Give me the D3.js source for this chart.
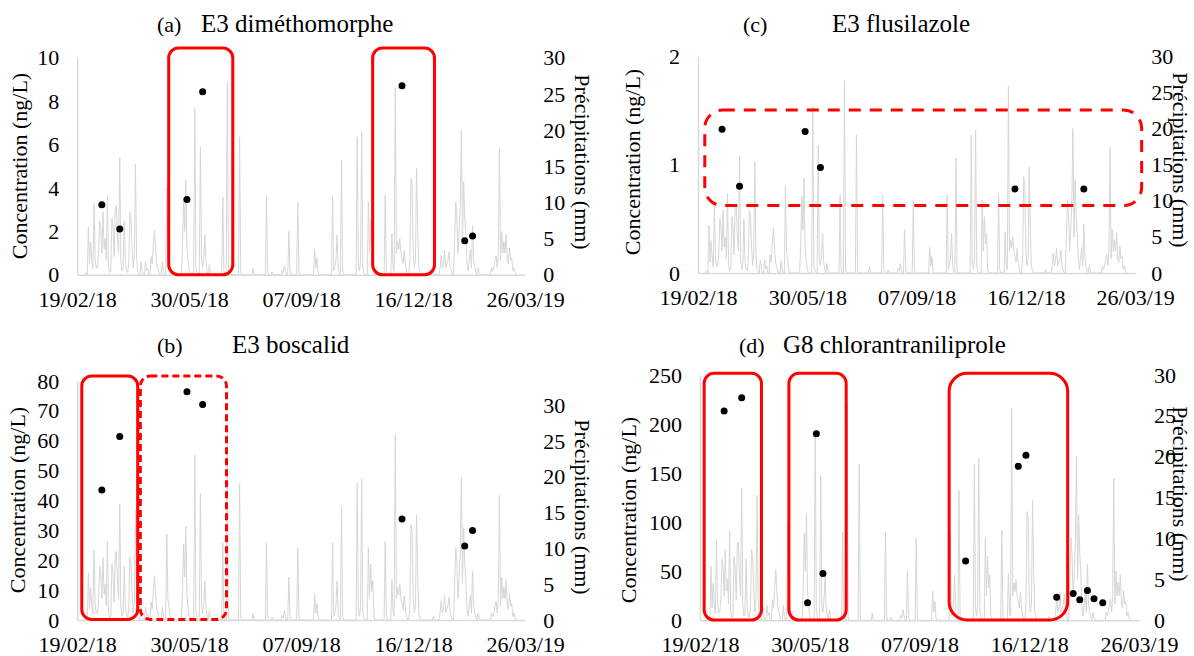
<!DOCTYPE html>
<html><head><meta charset="utf-8">
<script src="https://cdn.jsdelivr.net/npm/d3@7"></script>
<style>body{margin:0;background:#fff}</style>
</head><body>
<svg id="chart" width="1194" height="656"></svg>
<script>
// ---------- DATA ----------
const xTickLabels = ["19/02/18","30/05/18","07/09/18","16/12/18","26/03/19"];
const startLabel = "19/02/18";
const endLabel = "26/03/19";

// daily precipitation (mm), day offset from 19/02/18; unlisted days are dry (0)
const rainDay = [8,10,11,12,13,14,15,16,17,18,19,20,21,22,23,24,25,26,27,28,29,30,31,32,33,34,35,36,37,38,39,40,41,42,43,44,45,46,47,48,49,50,51,52,53,54,55,57,58,61,62,63,66,67,68,69,70,71,72,73,76,77,
80,81,82,83,94,95,96,97,98,99,100,105,106,107,110,111,112,113,114,115,116,118,119,130,131,134,135,145,146,157,
169,170,174,183,184,185,186,189,190,197,198,212,213,214,215,228,229,230,231,232,233,234,236,237,250,251,252,253,254,255,256,
260,261,262,263,264,265,275,276,281,282,283,284,285,286,287,288,289,290,291,292,293,294,297,298,299,300,301,302,303,304,305,306,318,
324,325,326,327,328,329,330,331,332,333,334,337,338,339,340,341,342,343,344,345,346,347,348,349,350,351,352,353,354,355,356,358,359,
370,371,372,373,374,375,376,377,378,379,380,381,382,383,384,385,386,387,388,389,390,391];
const rainMm = [0.3,6.6,1.5,4.5,2.0,0.8,9.8,2.3,0.9,1.0,2.5,7.5,6.5,3.0,8.7,3.6,5.0,2.0,11.0,1.0,0.3,0.5,7.8,6.5,2.5,9.2,9.6,5.0,3.0,16.2,2.0,0.5,1.0,7.5,1.8,0.6,0.3,1.5,8.7,7.8,3.6,1.0,2.5,15.3,2.7,0.5,0.3,1.8,0.5,1.8,0.6,0.9,2.5,1.5,4.1,6.2,3.6,1.5,0.9,0.3,1.8,0.5,
12.0,3.0,1.8,0.5,4.0,10.6,6.0,13.1,3.5,1.8,0.5,23.0,1.0,0.3,17.7,2.0,1.0,2.5,5.5,1.5,0.5,1.3,0.3,10.8,0.5,26.6,0.5,19.1,0.3,0.9,
10.8,0.5,0.4,0.6,0.3,1.3,0.5,6.0,0.5,10.0,0.3,3.6,1.0,2.3,0.3,10.8,0.5,1.0,2.0,5.5,1.0,0.3,15.9,0.5,19.1,1.5,0.5,2.0,19.8,1.0,0.3,
10.1,3.0,7.8,4.0,5.5,0.5,11.0,0.5,5.7,1.0,0.5,25.9,3.0,4.6,3.5,5.0,3.0,2.3,1.5,3.4,1.5,0.5,2.0,13.3,12.4,3.0,1.0,2.0,14.7,6.4,1.0,0.3,0.5,
1.0,2.7,1.0,1.5,3.4,1.0,1.5,2.0,3.2,1.0,0.5,5.0,10.1,8.0,3.0,6.0,9.5,20.0,5.0,12.9,8.0,5.6,1.5,0.5,2.0,3.5,1.0,6.8,2.0,1.0,0.3,1.0,0.3,
1.0,0.5,1.0,2.0,2.6,1.0,3.0,17.4,2.0,6.0,3.0,4.6,3.0,5.6,2.0,1.5,3.7,2.0,2.3,0.5,1.0,0.3];
const rainFirstDay = 7, rainLastDay = 393;

// (a) E3 diméthomorphe
const dimDates = ["13/03/18","29/03/18","28/05/18","11/06/18","06/12/18","31/01/19","07/02/19"];
const dimValues = [3.23,2.11,3.47,8.44,8.72,1.57,1.79];
const dimTicks = [0,2,4,6,8,10];
// (b) E3 boscalid
const bosDates = ["13/03/18","29/03/18","28/05/18","11/06/18","06/12/18","31/01/19","07/02/19"];
const bosValues = [43.5,61.4,76.4,72.1,33.8,24.8,30.0];
const bosTicks = [0,10,20,30,40,50,60,70,80];
// (c) E3 flusilazole
const fluDates = ["13/03/18","29/03/18","28/05/18","11/06/18","06/12/18","07/02/19"];
const fluValues = [1.326,0.80,1.305,0.974,0.775,0.775];
const fluTicks = [0,1,2];
// (d) G8 chlorantraniliprole
const chlDates = ["13/03/18","29/03/18","28/05/18","05/06/18","11/06/18","19/10/18","06/12/18","13/12/18","10/01/19","25/01/19","31/01/19","07/02/19","13/02/19","21/02/19"];
const chlValues = [213.3,226.9,18.0,190.2,47.6,60.5,156.9,168.1,23.5,27.3,21.0,30.4,22.0,18.0];
const chlTicks = [0,50,100,150,200,250];
const rainTicks = [0,5,10,15,20,25,30];

// highlight boxes: [startDay, endDay, low, high]
const dimBoxes = [[81.7,138.9,0,10.46],[263.8,319,0,10.46]];
const bosBoxes = [[4.1,54,0.2,81.7]];
const bosDashBoxes = [[56.4,133.3,0.2,81.7]];
const fluDashBoxes = [[6.2,405.9,0.622,1.504]];
const chlBoxes = [[3.8,56,0.3,251.7],[81,133.2,0.3,251.7],[227,335,0.3,251.7]];

// ---------- DRAW ----------
const parse = d3.utcParse("%d/%m/%y");
const start = parse(startLabel), end = parse(endLabel);
const tickDates = xTickLabels.map(parse);
const rainMap = new Map(rainDay.map((d,i)=>[d,rainMm[i]]));
const rainSeries = [];
for (let d = rainFirstDay; d <= rainLastDay; d++) rainSeries.push({date: d3.utcDay.offset(start,d), mm: rainMap.has(d) ? rainMap.get(d) : 0});

const svg = d3.select("#chart");
const FONT = '"Liberation Serif", "Times New Roman", serif';

function panel(cfg){
  const x = d3.scaleUtc().domain([start,end]).range([cfg.x0,cfg.x1]);
  const y = d3.scaleLinear().domain([0,cfg.yMax]).range([cfg.yB,cfg.yT]);
  const yr = d3.scaleLinear().domain([0,cfg.rMax]).range([cfg.yB,cfg.yT]);
  const dayPx = x(d3.utcDay.offset(start,1)) - x(start);
  const g = svg.append("g");

  // rain line
  g.append("path").datum(rainSeries)
    .attr("d", d3.line().x(d=>x(d.date)).y(d=>yr(d.mm)))
    .attr("fill","none").attr("stroke","#d6d6d6").attr("stroke-width",1);

  // axes
  const styleAxis = sel => {
    sel.attr("font-size",22);
    sel.selectAll("text").attr("fill","#000");
    sel.select(".domain").attr("stroke","#d9d9d9").attr("stroke-width",1.5);
  };
  g.append("g").attr("transform",`translate(0,${cfg.yB})`)
    .call(d3.axisBottom(x).tickValues(tickDates).tickFormat(d3.utcFormat("%d/%m/%y")).tickSize(0).tickPadding(16.5))
    .call(styleAxis);
  g.append("g").attr("transform",`translate(${cfg.x0},0)`)
    .call(d3.axisLeft(y).tickValues(cfg.yTicks).tickFormat(d3.format("d")).tickSize(0).tickPadding(18))
    .call(styleAxis);
  g.append("g").attr("transform",`translate(${cfg.x1},0)`)
    .call(d3.axisRight(yr).tickValues(rainTicks).tickFormat(d3.format("d")).tickSize(0).tickPadding(cfg.rPad))
    .call(styleAxis).call(s=>s.select(".domain").remove());

  // axis titles
  g.append("text").attr("transform",`translate(${cfg.lx},${cfg.ly}) rotate(-90)`)
    .attr("text-anchor","middle").attr("dominant-baseline","middle").attr("font-size",22).text("Concentration (ng/L)");
  g.append("text").attr("transform",`translate(${cfg.rx},${cfg.ry}) rotate(90)`)
    .attr("text-anchor","middle").attr("dominant-baseline","middle").attr("font-size",22).text("Précipitations (mm)");

  // titles
  g.append("text").attr("x",cfg.tagX).attr("y",cfg.titleY).attr("font-size",22).text(cfg.tag);
  g.append("text").attr("x",cfg.titleX).attr("y",cfg.titleY).attr("font-size",25).text(cfg.title);

  // boxes
  const drawBoxes = (boxes, dash, rx) => {
    g.selectAll(null).data(boxes).join("rect")
      .attr("x",b=>x(start) + dayPx*b[0])
      .attr("width",b=>dayPx*(b[1]-b[0]))
      .attr("y",b=>y(b[3])).attr("height",b=>y(b[2])-y(b[3]))
      .attr("rx",rx).attr("ry",rx)
      .attr("fill","none").attr("stroke","#ff0000").attr("stroke-width",3)
      .attr("stroke-dasharray",dash);
  };
  if (cfg.boxes) drawBoxes(cfg.boxes, null, cfg.boxR || 10);
  if (cfg.dashBoxes) drawBoxes(cfg.dashBoxes, cfg.dash, cfg.dashR || 10);
  if (cfg.bigBox) drawBoxes([cfg.bigBox], null, 18);

  // points
  g.selectAll(null).data(cfg.dates.map((d,i)=>({date:parse(d),v:cfg.values[i]}))).join("circle")
    .attr("cx",d=>x(d.date)).attr("cy",d=>y(d.v)).attr("r",3.5).attr("fill","#000");
}

panel({x0:77.2,x1:525.2,yT:57.9,yB:274.8,yMax:10,rMax:30,yTicks:dimTicks,rPad:18,
  lx:22,ly:166,rx:580,ry:162,tag:"(a)",tagX:157,title:"E3 diméthomorphe",titleX:201,titleY:32,
  dates:dimDates,values:dimValues,boxes:dimBoxes});
panel({x0:77.2,x1:525.2,yT:381,yB:620,yMax:80,rMax:33.4,yTicks:bosTicks,rPad:18,
  lx:20,ly:500,rx:580,ry:507,tag:"(b)",tagX:157,title:"E3 boscalid",titleX:232,titleY:353,
  dates:bosDates,values:bosValues,boxes:bosBoxes,dashBoxes:bosDashBoxes,dash:"7,4"});
panel({x0:698,x1:1135.2,yT:56.3,yB:273,yMax:2,rMax:30,yTicks:fluTicks,rPad:16,
  lx:635,ly:162,rx:1178,ry:160,tag:"(c)",tagX:743,title:"E3 flusilazole",titleX:832,titleY:32,
  dates:fluDates,values:fluValues,dashBoxes:fluDashBoxes,dash:"12,9",dashR:18});
panel({x0:700,x1:1139,yT:375,yB:620.3,yMax:250,rMax:30,yTicks:chlTicks,rPad:15,
  lx:631,ly:510,rx:1178,ry:494,tag:"(d)",tagX:739,title:"G8 chlorantraniliprole",titleX:783,titleY:353,
  dates:chlDates,values:chlValues,boxes:chlBoxes.slice(0,2),bigBox:chlBoxes[2]});

// serif font on every text (inline style)
svg.selectAll("text").style("font-family", FONT);
svg.selectAll("g").attr("font-family", null);
</script>
</body></html>
